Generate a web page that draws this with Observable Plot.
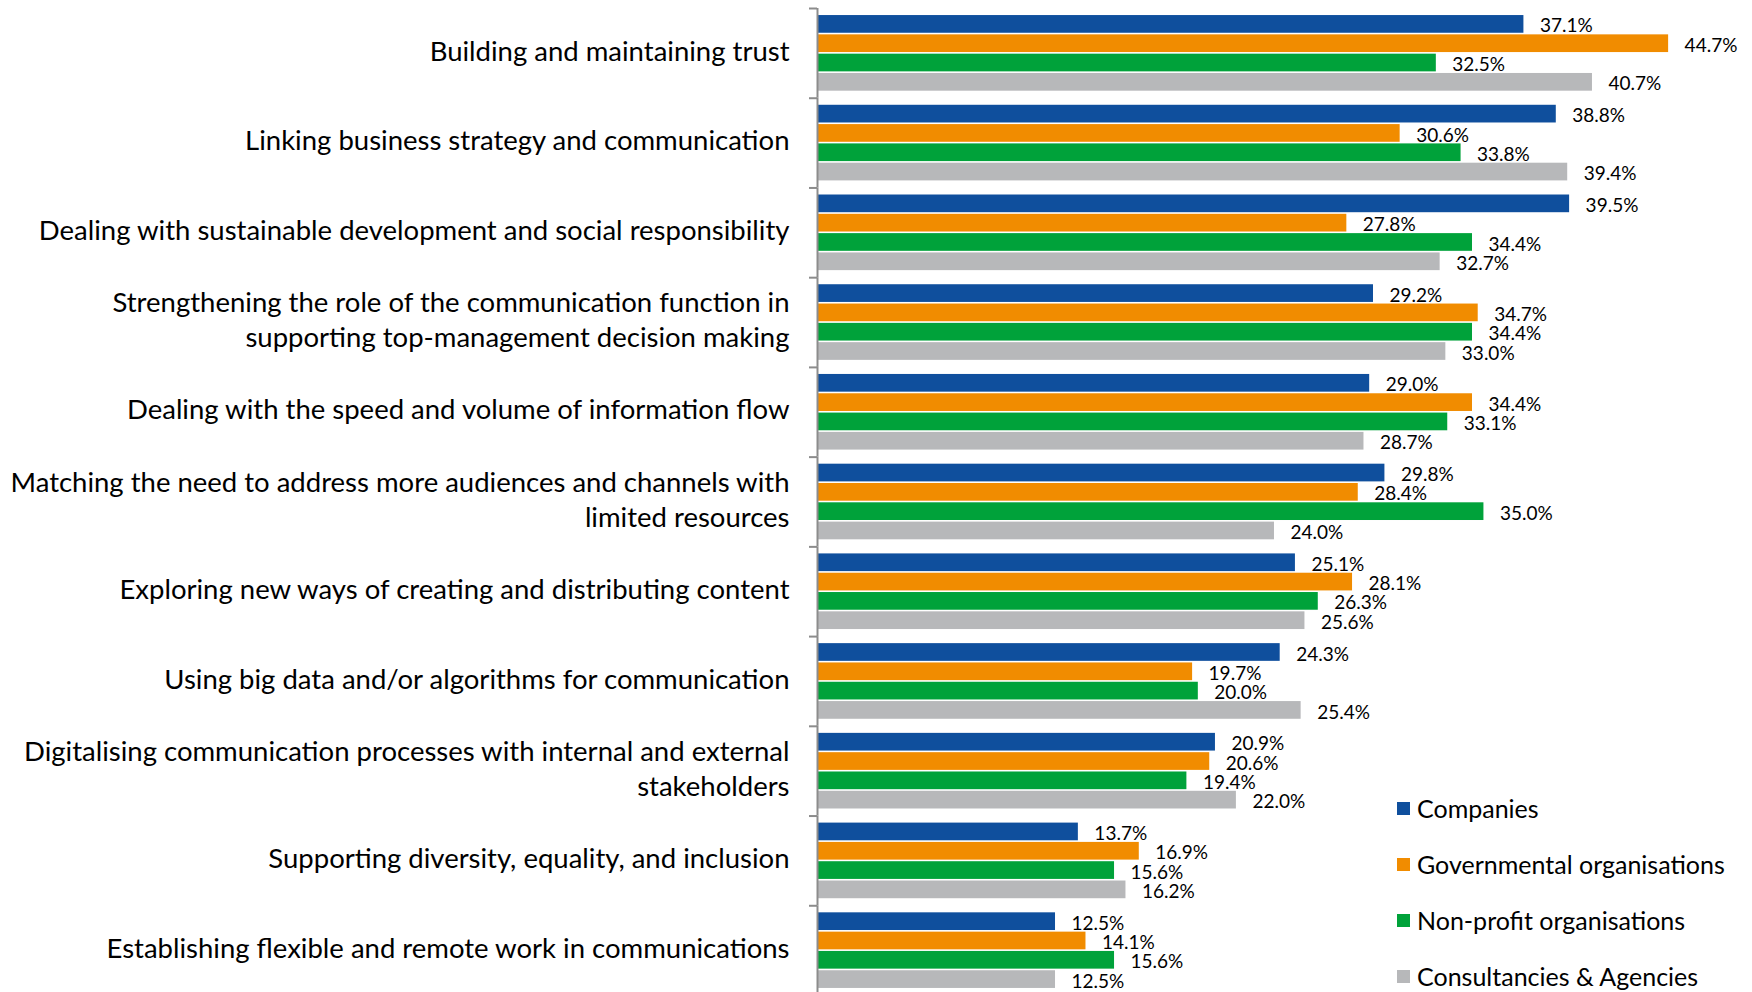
<!DOCTYPE html>
<html><head><meta charset="utf-8">
<script src="https://cdn.jsdelivr.net/npm/d3@7"></script>
<script src="https://cdn.jsdelivr.net/npm/@observablehq/plot@0.6"></script>
<style>
body{margin:0;background:#fff;}
#wrap{position:relative;width:1752px;height:992px;overflow:hidden;}
#legend{position:absolute;left:1397px;top:780px;font-family:Lato,sans-serif;font-size:25px;color:#000;}
.row{display:flex;align-items:center;height:56px;}
.sw{width:13px;height:13px;margin-right:7px;flex:none;}
</style></head><body>
<div id="wrap"><div id="chart"></div><div id="legend"></div></div>
<script>
const categories = [
  "Building and maintaining trust",
  "Linking business strategy and communication",
  "Dealing with sustainable development and social responsibility",
  "Strengthening the role of the communication function in supporting top-management decision making",
  "Dealing with the speed and volume of information flow",
  "Matching the need to address more audiences and channels with limited resources",
  "Exploring new ways of creating and distributing content",
  "Using big data and/or algorithms for communication",
  "Digitalising communication processes with internal and external stakeholders",
  "Supporting diversity, equality, and inclusion",
  "Establishing flexible and remote work in communications"
];
const tickLabels = [
  "Building and maintaining trust",
  "Linking business strategy and communication",
  "Dealing with sustainable development and social responsibility",
  "Strengthening the role of the communication function in\nsupporting top-management decision making",
  "Dealing with the speed and volume of information flow",
  "Matching the need to address more audiences and channels with\nlimited resources",
  "Exploring new ways of creating and distributing content",
  "Using big data and/or algorithms for communication",
  "Digitalising communication processes with internal and external\nstakeholders",
  "Supporting diversity, equality, and inclusion",
  "Establishing flexible and remote work in communications"
];
const series = ["Companies", "Governmental organisations", "Non-profit organisations", "Consultancies & Agencies"];
const companies     = [37.1, 38.8, 39.5, 29.2, 29.0, 29.8, 25.1, 24.3, 20.9, 13.7, 12.5];
const governmental  = [44.7, 30.6, 27.8, 34.7, 34.4, 28.4, 28.1, 19.7, 20.6, 16.9, 14.1];
const nonprofit     = [32.5, 33.8, 34.4, 34.4, 33.1, 35.0, 26.3, 20.0, 19.4, 15.6, 15.6];
const consultancies = [40.7, 39.4, 32.7, 33.0, 28.7, 24.0, 25.6, 25.4, 22.0, 16.2, 12.5];
const colors = ["#0f4f9d", "#f18c00", "#00a23a", "#b7b8ba"];

const seriesValues = [companies, governmental, nonprofit, consultancies];
const data = categories.flatMap((c, i) => series.map((s, j) => ({category: c, series: s, value: seriesValues[j][i]})));
const labelMap = new Map(categories.map((c, i) => [c, tickLabels[i]]));

const W = 1752, H = 1000, mT = 8, mB = 5;
const facetH = (H - mT - mB) / categories.length;

const chart = Plot.plot({
  width: W, height: H,
  marginLeft: 817, marginRight: 2, marginTop: mT, marginBottom: mB,
  x: {domain: [0, 49], axis: null},
  y: {domain: series, paddingInner: 0.083, paddingOuter: 0.365, round: false, axis: null},
  fy: {domain: categories, paddingInner: 0, paddingOuter: 0, round: false, label: null, axis: null},
  color: {domain: series, range: colors},
  style: {fontFamily: "Lato, sans-serif", color: "#000", background: "#fff"},
  marks: [
    Plot.barX(data, {fy: "category", y: "series", x: "value", fill: "series"}),
    Plot.text(data, {fy: "category", y: "series", x: "value", text: d => d.value.toFixed(1) + "%",
      textAnchor: "start", dx: 16, dy: 2, fontSize: 19, fill: "#000"}),
    Plot.ruleX([0], {stroke: "#8c8c8c", strokeWidth: 2}),
    Plot.axisFy({anchor: "left", tickSize: 8, dy: -facetH / 2, text: null, stroke: "#8c8c8c", strokeWidth: 2, label: null}),
    Plot.axisFy({anchor: "left", tickSize: 0, tickPadding: 28, tickFormat: d => labelMap.get(d),
      fontSize: 27.5, lineHeight: 1.27, dy: -4, fill: "#000", label: null, textOverflow: null})
  ]
});
document.getElementById("chart").appendChild(chart);

const legend = document.getElementById("legend");
series.forEach((s, i) => {
  const row = document.createElement("div");
  row.className = "row";
  const sw = document.createElement("span");
  sw.className = "sw";
  sw.style.background = colors[i];
  const t = document.createElement("span");
  t.textContent = s;
  row.appendChild(sw); row.appendChild(t);
  legend.appendChild(row);
});
</script>
</body></html>
